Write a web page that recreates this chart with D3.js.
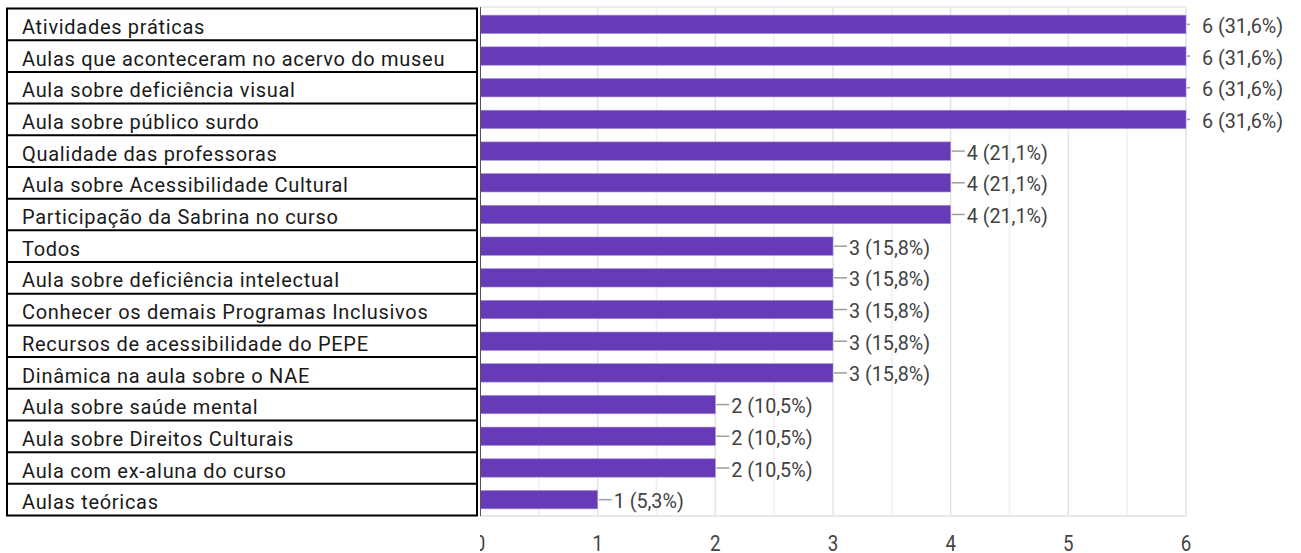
<!DOCTYPE html>
<html>
<head>
<meta charset="utf-8">
<script src="https://cdn.jsdelivr.net/npm/d3@7"></script>
<style>
  html, body { margin: 0; padding: 0; background: #fff; }
  svg { display: block; }
</style>
</head>
<body>
<svg id="chart" width="1301" height="553"></svg>
<script>
const categories = [
  "Atividades práticas",
  "Aulas que aconteceram no acervo do museu",
  "Aula sobre deficiência visual",
  "Aula sobre público surdo",
  "Qualidade das professoras",
  "Aula sobre Acessibilidade Cultural",
  "Participação da Sabrina no curso",
  "Todos",
  "Aula sobre deficiência intelectual",
  "Conhecer os demais Programas Inclusivos",
  "Recursos de acessibilidade do PEPE",
  "Dinâmica na aula sobre o NAE",
  "Aula sobre saúde mental",
  "Aula sobre Direitos Culturais",
  "Aula com ex-aluna do curso",
  "Aulas teóricas"
];
const counts = [6, 6, 6, 6, 4, 4, 4, 3, 3, 3, 3, 3, 2, 2, 2, 1];
const percents = ["31,6%", "31,6%", "31,6%", "31,6%", "21,1%", "21,1%", "21,1%",
  "15,8%", "15,8%", "15,8%", "15,8%", "15,8%", "10,5%", "10,5%", "10,5%", "5,3%"];
const xTicks = [0, 1, 2, 3, 4, 5, 6];
const gridValues = [0.5, 1, 1.5, 2, 2.5, 3, 3.5, 4, 4.5, 5, 5.5, 6];

const svg = d3.select("#chart");
const x = d3.scaleLinear().domain([0, 6]).range([480, 1186]);
const y = d3.scaleBand().domain(categories).range([8.5, 515.5]).paddingInner(0.42).paddingOuter(0.21);
const plotTop = 7, plotBottom = 516;

// grid lines
svg.append("g").selectAll("line").data(gridValues).join("line")
  .attr("x1", d => x(d)).attr("x2", d => x(d))
  .attr("y1", plotTop).attr("y2", plotBottom)
  .attr("stroke", d => Number.isInteger(d) ? "#e4e4e4" : "#f0f0f0")
  .attr("stroke-width", 1.5);

// plot frame top/bottom
svg.append("line").attr("x1", x(0)).attr("x2", x(6)).attr("y1", plotTop).attr("y2", plotTop)
  .attr("stroke", "#ececec").attr("stroke-width", 2);
svg.append("line").attr("x1", x(0)).attr("x2", x(6)).attr("y1", plotBottom).attr("y2", plotBottom)
  .attr("stroke", "#e8e8e8").attr("stroke-width", 2);

// bars
svg.append("g").selectAll("rect").data(categories).join("rect")
  .attr("x", x(0))
  .attr("y", d => y(d))
  .attr("width", (d, i) => x(counts[i]) - x(0))
  .attr("height", y.bandwidth())
  .attr("fill", "#673ab7")
  .attr("stroke", "#a58bd6")
  .attr("stroke-width", 0.6);

// connectors and value labels
const vl = svg.append("g");
categories.forEach((c, i) => {
  const xe = x(counts[i]);
  const cy = y(c) + y.bandwidth() / 2;
  const isMax = counts[i] === 6;
  vl.append("line")
    .attr("x1", xe + 1).attr("x2", isMax ? xe + 4 : xe + 14)
    .attr("y1", cy).attr("y2", cy)
    .attr("stroke", "#9e9e9e").attr("stroke-width", 1.5);
  vl.append("text")
    .attr("transform", `translate(${xe + 16},${cy + 1}) scale(0.94,1)`)
    .attr("dy", "0.36em")
    .attr("font-family", "Roboto, sans-serif")
    .attr("font-size", 21)
    .attr("fill", "#424242")
    .text(counts[i] + " (" + percents[i] + ")");
});

// axis line
svg.append("line").attr("x1", x(0)).attr("x2", x(0)).attr("y1", plotTop).attr("y2", plotBottom)
  .attr("stroke", "#555").attr("stroke-width", 2);

// x tick labels
svg.append("g").selectAll("text").data(xTicks).join("text")
  .attr("transform", d => `translate(${x(d)},551) scale(0.85,1)`)
  .attr("text-anchor", "middle")
  .attr("font-family", "Roboto, sans-serif")
  .attr("font-size", 22)
  .attr("fill", "#444")
  .text(d => d);

// white overlay covering left area
svg.append("rect").attr("x", 0).attr("y", 0).attr("width", 480).attr("height", 553).attr("fill", "#fff");

// label box
const step = y.step();
const boxTop = 8.5, boxLeft = 7, boxRight = 477;
const lb = svg.append("g");
categories.forEach((c, i) => {
  const top = boxTop + i * step;
  lb.append("text")
    .attr("x", 22).attr("y", top + step / 2)
    .attr("dy", "0.48em")
    .attr("font-family", "Roboto, sans-serif")
    .attr("font-size", 20)
    .attr("letter-spacing", 0.7)
    .attr("fill", "#1a1a1a")
    .text(c);
});
const boundaries = d3.range(categories.length + 1).map(i => boxTop + i * step);
lb.selectAll("line.h").data(boundaries).join("line")
  .attr("class", "h")
  .attr("x1", boxLeft - 1).attr("x2", boxRight + 1)
  .attr("y1", d => d).attr("y2", d => d)
  .attr("stroke", "#000").attr("stroke-width", 2);
lb.append("line").attr("x1", boxLeft).attr("x2", boxLeft).attr("y1", boundaries[0]).attr("y2", boundaries[boundaries.length - 1])
  .attr("stroke", "#000").attr("stroke-width", 2);
lb.append("line").attr("x1", boxRight).attr("x2", boxRight).attr("y1", boundaries[0]).attr("y2", boundaries[boundaries.length - 1])
  .attr("stroke", "#000").attr("stroke-width", 2);
</script>
</body>
</html>
